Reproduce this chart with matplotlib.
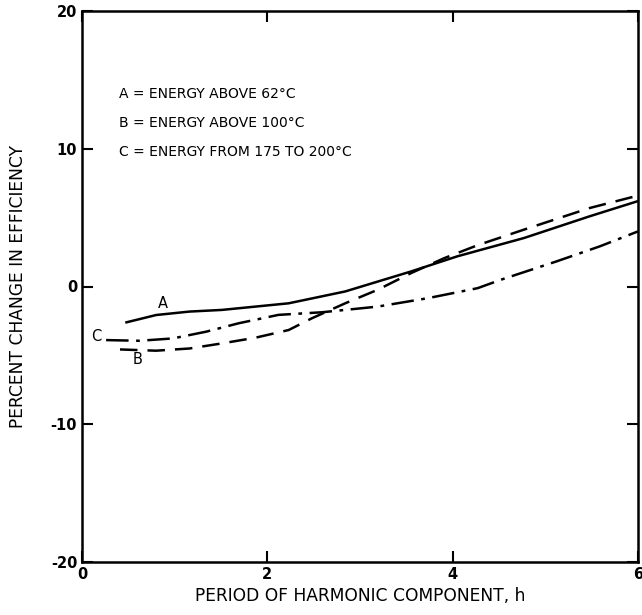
import numpy as np
import matplotlib
matplotlib.use('Agg')
import matplotlib.pyplot as plt

font = {'family': 'DejaVu Sans', 'weight': 'normal', 'size': 10.5}
matplotlib.rc('font', **font)

# curve A: energy above 62 C (solid)
a_x = [0.48, 0.80, 1.16, 1.51, 1.87, 2.23, 2.84, 3.55, 4.05, 4.77, 5.48, 6.0]
a_y = [-2.6, -2.07, -1.82, -1.7, -1.46, -1.22, -0.36, 1.09, 2.19, 3.52, 5.1, 6.2]
# curve B: energy above 100 C (dashed)
b_x = [0.41, 0.80, 1.16, 1.51, 1.87, 2.23, 2.48, 2.84, 3.19, 3.55, 3.91,
       4.27, 4.77, 5.48, 6.0]
b_y = [-4.57, -4.66, -4.5, -4.13, -3.72, -3.16, -2.31, -1.22, -0.24, 0.97,
       2.06, 3.0, 4.13, 5.7, 6.6]
# curve C: energy from 175 to 200 C (dash-dot)
c_x = [0.26, 0.62, 0.98, 1.34, 1.69, 2.12, 2.59, 3.19, 3.73, 4.27, 4.52,
       5.12, 5.59, 6.0]
c_y = [-3.89, -3.94, -3.77, -3.28, -2.67, -2.06, -1.87, -1.46, -0.85, -0.12,
       0.49, 1.82, 2.92, 4.0]

legend_lines = ['A = ENERGY ABOVE 62\u00b0C',
                'B = ENERGY ABOVE 100\u00b0C',
                'C = ENERGY FROM 175 TO 200\u00b0C']

fig = plt.figure(figsize=(6.42, 6.15), dpi=100)
ax = fig.add_axes([82 / 642, 1 - 562 / 615, 556 / 642, 551 / 615])

ax.plot(a_x, a_y, c='k', ls='-', lw=1.8)
ax.plot(b_x, b_y, c='k', ls=(0, (7, 4)), lw=1.8)
ax.plot(c_x, c_y, c='k', ls=(0, (9, 3, 1.5, 3)), lw=1.8)

ax.text(0.87, -1.2, 'A', ha='center', va='center')
ax.text(0.6, -5.3, 'B', ha='center', va='center')
ax.text(0.15, -3.65, 'C', ha='center', va='center')

for i, t in enumerate(legend_lines):
    ax.text(0.4, 14.0 - i * 2.1, t, ha='left', va='center', fontsize=10)

ax.set_xlim(0, 6)
ax.set_ylim(-20, 20)
ax.set_xticks([0, 2, 4, 6])
ax.set_yticks([-20, -10, 0, 10, 20])
ax.set_yticklabels(['-20', '-10', '0', '10', '20'])
ax.tick_params(direction='in', length=8, width=1.5, top=True, right=True,
               labelsize=10.5)
for lab in ax.get_xticklabels() + ax.get_yticklabels():
    lab.set_fontweight('bold')
for s in ax.spines.values():
    s.set_linewidth(1.8)

ax.set_xlabel('PERIOD OF HARMONIC COMPONENT, h', labelpad=4, fontsize=12.3)
ax.set_ylabel('PERCENT CHANGE IN EFFICIENCY', labelpad=17, fontsize=12.3)

plt.savefig('out.png', dpi=100)
